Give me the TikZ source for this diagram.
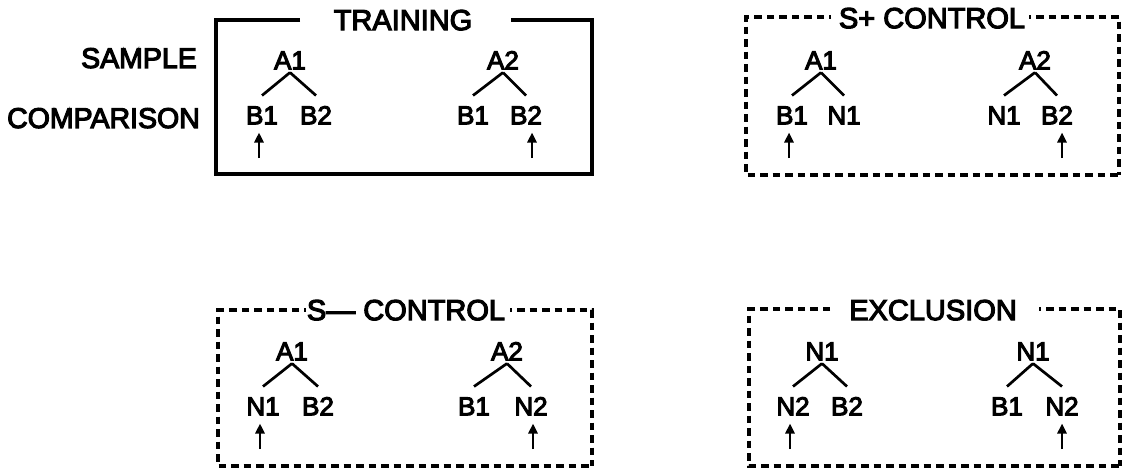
\documentclass[tikz,border=0pt]{standalone}
\usepackage{fontspec}
\setmainfont{Liberation Sans}
\newfontfamily\hvheavy{Liberation Sans}[FakeBold=4]
\usetikzlibrary{arrows.meta}
\tikzset{
  lbl/.style={font=\hvheavy\fontsize{26}{28}\selectfont, inner sep=0pt, text height=18.6pt, text depth=0pt},
  ttl/.style={font=\hvheavy\fontsize{29}{31}\selectfont, inner sep=0pt, text depth=0pt},
  side/.style={font=\hvheavy\fontsize{28.5}{30}\selectfont, anchor=east, inner sep=0pt, text depth=0pt},
  leg/.style={line width=2.7pt},
  pointer/.style={line width=2.6pt, -{Triangle[length=10pt,width=9pt]}, shorten >=8pt},
  sbox/.style={line width=3.2pt},
  dbox/.style={line width=3.2pt, dash pattern=on 7.5pt off 5pt, dash phase=5.5pt},
  dboxfull/.style={line width=3.2pt, dash pattern=on 7.5pt off 5pt},
}
\newcommand{\mytree}[8]{%
  % #1 prefix, #2 apex x, #3 apex label, #4 left x, #5 left label, #6 right x, #7 right label, #8 y offset
  \node[lbl] (#1a) at (#2,60+#8) {#3};
  \node[lbl] (#1l) at (#4,115+#8) {#5};
  \node[lbl] (#1r) at (#6,115+#8) {#7};
  \draw[leg] ([yshift=-3pt]#1a.south) -- ([yshift=10pt]#1l.north);
  \draw[leg] ([yshift=-3pt]#1a.south) -- ([yshift=10pt]#1r.north);
}
\begin{document}
\begin{tikzpicture}[x=1pt,y=-1pt]
\useasboundingbox (0,0) rectangle (1127,471);

% side labels
\node[side] (sample) at (197,58) {SAMPLE};
\node[side] (comparison) at (200,118) {COMPARISON};

% ---------- TRAINING ----------
\node[ttl] (train) at (403,20) {TRAINING};
\coordinate (t-nw) at (216,20);
\coordinate (t-sw) at (216,174);
\coordinate (t-se) at (592,174);
\coordinate (t-ne) at (592,20);
\coordinate (t-l) at (300,20);
\coordinate (t-r) at (511,20);
\draw[sbox] (t-l) -- (t-nw) -- (t-sw) -- (t-se) -- (t-ne) -- (t-r);
\mytree{ta}{290}{A1}{262}{B1}{316}{B2}{0}
\mytree{tb}{503}{A2}{473}{B1}{526}{B2}{0}
\coordinate (tp1) at (259,158);
\coordinate (tp2) at (532,158);
\draw[pointer] (tp1) -- (tp1 |- tal.south);
\draw[pointer] (tp2) -- (tp2 |- tbr.south);

% ---------- S+ CONTROL ----------
\node[ttl] (splus) at (932,18) {S+ CONTROL};
\coordinate (p-nw) at (746,17);
\coordinate (p-sw) at (746,175);
\coordinate (p-se) at (1119,175);
\coordinate (p-ne) at (1119,17);
\coordinate (p-l) at (831,17);
\coordinate (p-r) at (1029,17);
\draw[dbox] (p-l) -- (p-nw) -- (p-sw) -- (p-se);
\draw[dbox] (p-r) -- (p-ne) -- (p-se);
\mytree{pa}{821}{A1}{792}{B1}{844}{N1}{0}
\mytree{pb}{1035}{A2}{1004}{N1}{1057}{B2}{0}
\coordinate (pp1) at (789,158);
\coordinate (pp2) at (1062,158);
\draw[pointer] (pp1) -- (pp1 |- pal.south);
\draw[pointer] (pp2) -- (pp2 |- pbr.south);

% ---------- S- CONTROL ----------
\node[ttl] (sminus) at (406,310) {S— CONTROL};
\coordinate (m-nw) at (218,310);
\coordinate (m-sw) at (218,466);
\coordinate (m-se) at (592,466);
\coordinate (m-ne) at (592,310);
\coordinate (m-l) at (306,310);
\coordinate (m-r) at (510,310);
\draw[dbox] (m-l) -- (m-nw) -- (m-sw) -- (m-se);
\draw[dbox] (m-r) -- (m-ne) -- (m-se);
\mytree{ma}{292}{A1}{263}{N1}{318}{B2}{291}
\mytree{mb}{507}{A2}{474}{B1}{531}{N2}{291}
\coordinate (mp1) at (260,449);
\coordinate (mp2) at (533,449);
\draw[pointer] (mp1) -- (mp1 |- mal.south);
\draw[pointer] (mp2) -- (mp2 |- mbr.south);

% ---------- EXCLUSION ----------
\node[ttl] (excl) at (933,310) {EXCLUSION};
\coordinate (e-nw) at (749,309);
\coordinate (e-sw) at (749,466);
\coordinate (e-se) at (1120,466);
\coordinate (e-ne) at (1120,309);
\coordinate (e-l) at (830,309);
\coordinate (e-r) at (1039,309);
\draw[dboxfull] (e-l) -- (e-nw) -- (e-sw) -- (e-se);
\draw[dbox] (e-r) -- (e-ne) -- (e-se);
\mytree{ea}{822}{N1}{793}{N2}{847}{B2}{291}
\mytree{eb}{1033}{N1}{1007}{B1}{1062}{N2}{291}
\coordinate (ep1) at (790,449);
\coordinate (ep2) at (1062,449);
\draw[pointer] (ep1) -- (ep1 |- eal.south);
\draw[pointer] (ep2) -- (ep2 |- ebr.south);
\end{tikzpicture}
\end{document}
